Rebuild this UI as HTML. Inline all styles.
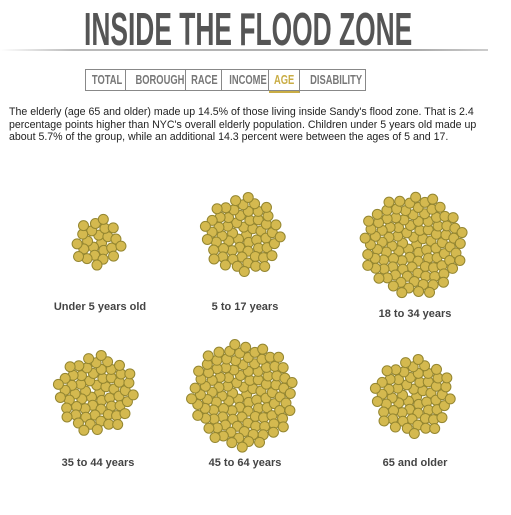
<!DOCTYPE html>
<html><head><meta charset="utf-8">
<style>
body{margin:0;width:511px;height:515px;background:#fff;overflow:hidden;position:relative;font-family:"Liberation Sans",sans-serif}
#title{position:absolute;left:84px;top:6px;font-weight:bold;font-size:46px;color:#555;white-space:nowrap;transform-origin:left top;line-height:46px}
#rule{position:absolute;left:0;top:49px;width:488px;height:2px;background:linear-gradient(90deg,#fff,#bbb 15%,#aaa 85%,#ccc)}
#tabs{position:absolute;left:85px;top:69px;height:20px;display:flex;border:1px solid #888}
.tab{font-weight:bold;font-size:13px;color:#777;line-height:20px;text-align:center;border-right:1px solid #888;box-sizing:border-box;overflow:visible;white-space:nowrap}
.tab span{display:inline-block;transform:scaleX(0.72)}
.tab:last-child{border-right:none}
.tab.on{color:#c9ad45;border-bottom:2px solid #c9ad45;height:23px}
#para{position:absolute;left:9px;top:106px;width:495px;font-size:10.6px;line-height:12.5px;color:#222}
svg{position:absolute;left:0;top:0}
</style></head><body>
<div id="title">INSIDE THE FLOOD ZONE</div>
<div id="rule"></div>
<div id="tabs">
<div class="tab" style="width:40px"><span>TOTAL</span></div>
<div class="tab" style="width:60px"><span>BOROUGH</span></div>
<div class="tab" style="width:36px"><span>RACE</span></div>
<div class="tab" style="width:47px"><span>INCOME</span></div>
<div class="tab on" style="width:31px"><span>AGE</span></div>
<div class="tab" style="width:65px"><span>DISABILITY</span></div>
</div>
<div id="para">The elderly (age 65 and older) made up 14.5% of those living inside Sandy's flood zone. That is 2.4 percentage points higher than NYC's overall elderly population. Children under 5 years old made up about 5.7% of the group, while an additional 14.3 percent were between the ages of 5 and 17.</div>
<svg id="chart" width="511" height="515"></svg>
<script>
const categories=["Under 5 years old","5 to 17 years","18 to 34 years","35 to 44 years","45 to 64 years","65 and older"];
const percents=[5.7,14.3,24.5,14.8,26.2,14.5];
const centerX=[98,243,413,96,243,413];
const centerY=[243,235,245,393,395,397];
const labelY=[306,306,313,462,462,462];
const perPct=4.2, spacing=5.0, dotR=5;
const ti=document.getElementById('title');
ti.style.transform='scaleX('+(328/ti.offsetWidth)+')';
const svg=document.getElementById('chart');
const NS='http://www.w3.org/2000/svg';
categories.forEach((c,k)=>{
  const g=document.createElementNS(NS,'g');
  
  
  const n=Math.round(percents[k]*perPct);
  for(let i=0;i<n;i++){
    const r=spacing*Math.sqrt(i+0.5), a=i*2.39996;
    const ci=document.createElementNS(NS,'circle');
    
    
    ci.setAttribute('cx',centerX[k]+r*Math.cos(a));
    ci.setAttribute('cy',centerY[k]+r*Math.sin(a));
    ci.setAttribute('r',dotR);
    ci.setAttribute('fill','#d4b94f');
    ci.setAttribute('stroke','#948630');
    ci.setAttribute('stroke-width','1');
    g.appendChild(ci);
  }
  svg.appendChild(g);
  const t=document.createElementNS(NS,'text');
  
  
  t.setAttribute('x',centerX[k]+2);
  t.setAttribute('y',labelY[k]+4);
  t.setAttribute('text-anchor','middle');
  t.setAttribute('font-family','Liberation Sans, sans-serif');
  t.setAttribute('font-weight','bold');
  t.setAttribute('font-size','11');
  t.setAttribute('fill','#444');
  t.textContent=c;
  svg.appendChild(t);
});
</script>
</body></html>
